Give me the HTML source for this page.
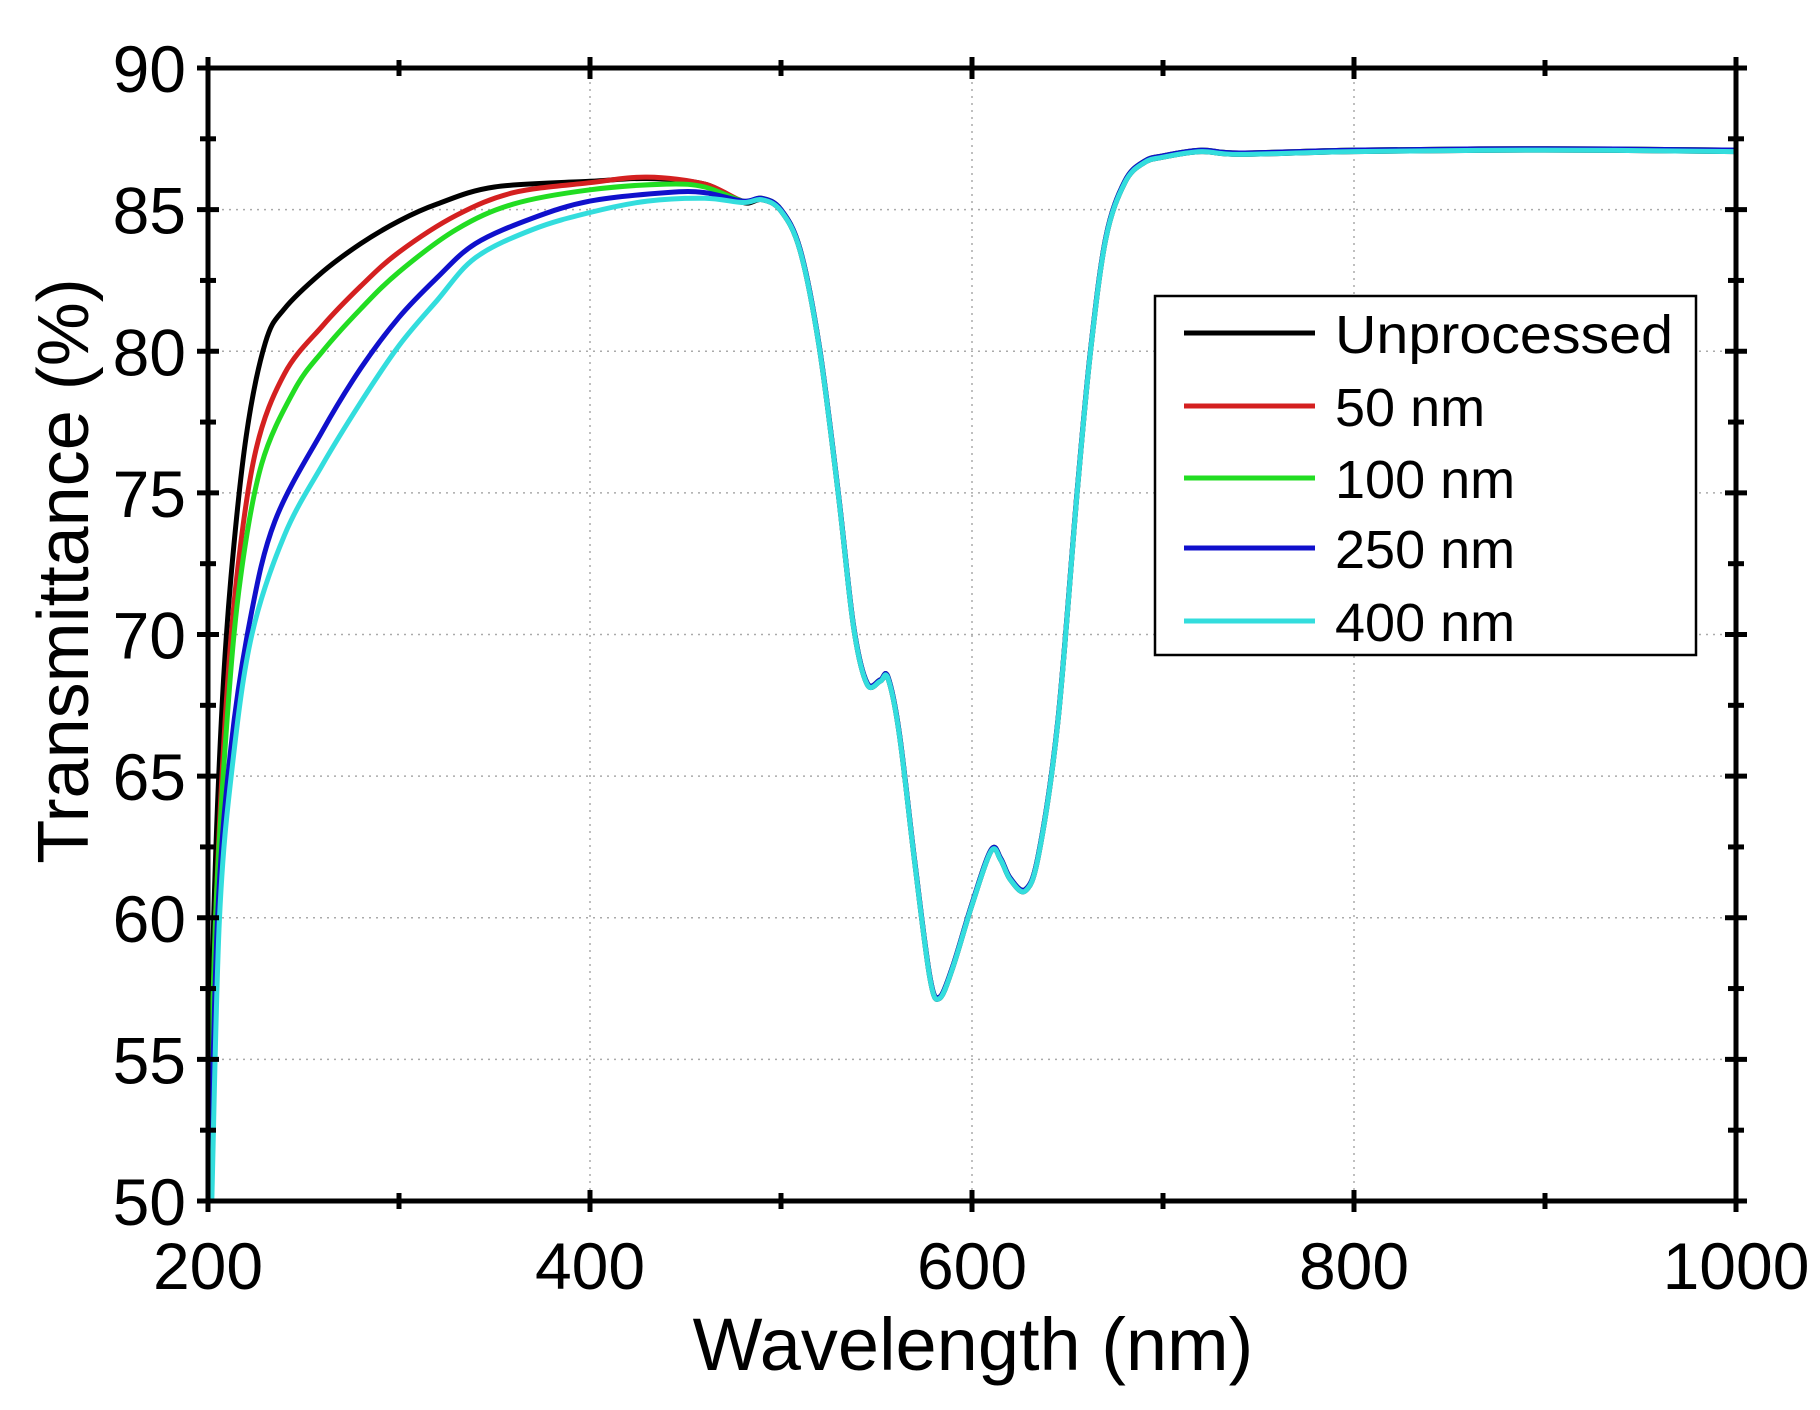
<!DOCTYPE html>
<html><head><meta charset="utf-8"><style>
html,body{margin:0;padding:0;background:#fff;}
svg{display:block;}
text{font-family:"Liberation Sans",sans-serif;fill:#000;}
</style></head><body>
<svg id="s" width="1820" height="1410" xmlns="http://www.w3.org/2000/svg">
<rect width="1820" height="1410" fill="#fff"/>
<g id="grid" stroke="#aaa" stroke-width="1.5" stroke-dasharray="2,5"></g>
<g id="series" fill="none" stroke-width="5" stroke-linejoin="round"></g>
<g id="axes" stroke="#000"></g>
<g id="labels" font-size="66"></g>
<text x="973" y="1370" font-size="74" text-anchor="middle">Wavelength (nm)</text>
<text transform="translate(88,571) rotate(-90)" font-size="72" text-anchor="middle">Transmittance (%)</text>
<g id="legend">
<rect x="1155" y="296" width="541" height="359" fill="#fff" stroke="#000" stroke-width="2.5"/>
<line x1="1184" x2="1315" y1="333" y2="333" stroke="#000" stroke-width="5"/>
<line x1="1184" x2="1315" y1="406" y2="406" stroke="#d42020" stroke-width="5"/>
<line x1="1184" x2="1315" y1="478" y2="478" stroke="#22dd22" stroke-width="5"/>
<line x1="1184" x2="1315" y1="548" y2="548" stroke="#1010cc" stroke-width="5"/>
<line x1="1184" x2="1315" y1="621" y2="621" stroke="#33dddd" stroke-width="5"/>
<text x="1335" y="353" font-size="54" textLength="338" lengthAdjust="spacingAndGlyphs">Unprocessed</text>
<text x="1335" y="426" font-size="54">50 nm</text>
<text x="1335" y="498" font-size="54">100 nm</text>
<text x="1335" y="568" font-size="54">250 nm</text>
<text x="1335" y="641" font-size="54">400 nm</text>
</g>
</svg>
<script>
var L=208,R=1736,T=68,B=1201;
function X(w){return L+(w-200)*(R-L)/800;}
function Y(t){return B-(t-50)*(B-T)/40;}
var NS="http://www.w3.org/2000/svg";
function el(p,n,a){var e=document.createElementNS(NS,n);for(var k in a)e.setAttribute(k,a[k]);p.appendChild(e);return e;}
var g=document.getElementById('grid');
for(var w=400;w<1000;w+=200)el(g,'line',{x1:X(w),x2:X(w),y1:T,y2:B});
for(var t=55;t<90;t+=5)el(g,'line',{x1:L,x2:R,y1:Y(t),y2:Y(t)});
var tail=[[480,85.3],[490,85.4],[500,85.0],[510,83.6],[520,80.2],[530,75],[538,70.3],[545,68.3],[552,68.4],[556,68.5],[562,66.5],[570,62],[578,57.9],[583,57.2],[590,58.3],[600,60.5],[610,62.4],[615,62.1],[620,61.4],[628,61.0],[635,62.3],[645,67],[655,75],[662,80],[670,84],[680,86],[690,86.7],[700,86.9],[720,87.1],[740,87.0],[800,87.1],[900,87.15],[1000,87.1]];
var S=[
["#000",[[200,50],[203,60],[207,67],[212,72],[220,77],[230,80.3],[240,81.5],[260,82.8],[280,83.8],[300,84.6],[320,85.2],[350,85.8],[400,86.0],[430,86.1],[460,85.9]]],
["#d42020",[[200,50],[204,60],[209,67],[215,72],[225,76.5],[240,79.2],[260,80.9],[280,82.3],[300,83.5],[330,84.8],[360,85.6],[400,85.95],[430,86.15],[460,85.9]]],
["#22dd22",[[200,50],[204,60],[210,67],[217,72],[228,76],[245,78.6],[260,80],[280,81.5],[300,82.8],[330,84.3],[360,85.2],[400,85.7],[440,85.9],[460,85.8]]],
["#1010cc",[[201,50],[205,60],[212,66],[222,70.5],[235,74],[260,77.2],[280,79.4],[300,81.2],[320,82.6],[340,83.8],[370,84.7],[400,85.3],[440,85.6],[460,85.6]]],
["#33dddd",[[202,50],[206,60],[213,65.5],[223,70],[240,73.5],[260,76],[280,78.2],[300,80.2],[320,81.8],[340,83.3],[370,84.3],[400,84.9],[430,85.3],[460,85.4]]]];
var sg=document.getElementById('series');
function smooth(P){var d='M'+P[0][0].toFixed(1)+','+P[0][1].toFixed(1);
for(var i=0;i<P.length-1;i++){var p0=P[i-1]||P[i],p1=P[i],p2=P[i+1],p3=P[i+2]||p2;
var c1=[p1[0]+(p2[0]-p0[0])/6,p1[1]+(p2[1]-p0[1])/6],c2=[p2[0]-(p3[0]-p1[0])/6,p2[1]-(p3[1]-p1[1])/6];
d+='C'+c1[0].toFixed(1)+','+c1[1].toFixed(1)+' '+c2[0].toFixed(1)+','+c2[1].toFixed(1)+' '+p2[0].toFixed(1)+','+p2[1].toFixed(1);}
return d;}
S.forEach(function(s,i){var pts=s[1].concat(tail.map(function(p){return [p[0],p[1]+(i==0?-0.05:0)+(i==4?-0.05:0)];}));
var P=pts.map(function(p){return [X(p[0]),Y(p[1])];});
el(sg,'path',{d:smooth(P),stroke:s[0]});});
var a=document.getElementById('axes');
el(a,'rect',{x:L,y:T,width:R-L,height:B-T,fill:'none','stroke-width':5});
for(var w=200;w<=1000;w+=100){var m=(w%200==0)?11:8;
el(a,'line',{x1:X(w),x2:X(w),y1:B-m,y2:B+m,'stroke-width':5});
el(a,'line',{x1:X(w),x2:X(w),y1:T-m,y2:T+m,'stroke-width':5});}
for(var t=50;t<=90;t+=2.5){var m=(t%5==0)?11:8;
el(a,'line',{x1:L-m,x2:L+m,y1:Y(t),y2:Y(t),'stroke-width':5});
el(a,'line',{x1:R-m,x2:R+m,y1:Y(t),y2:Y(t),'stroke-width':5});}
var lb=document.getElementById('labels');
for(var t=50;t<=90;t+=5){var e=el(lb,'text',{x:186,y:Y(t)+24,'text-anchor':'end'});e.textContent=t;}
for(var w=200;w<=1000;w+=200){var e=el(lb,'text',{x:X(w),y:1289,'text-anchor':'middle'});e.textContent=w;}
</script>
</body></html>
